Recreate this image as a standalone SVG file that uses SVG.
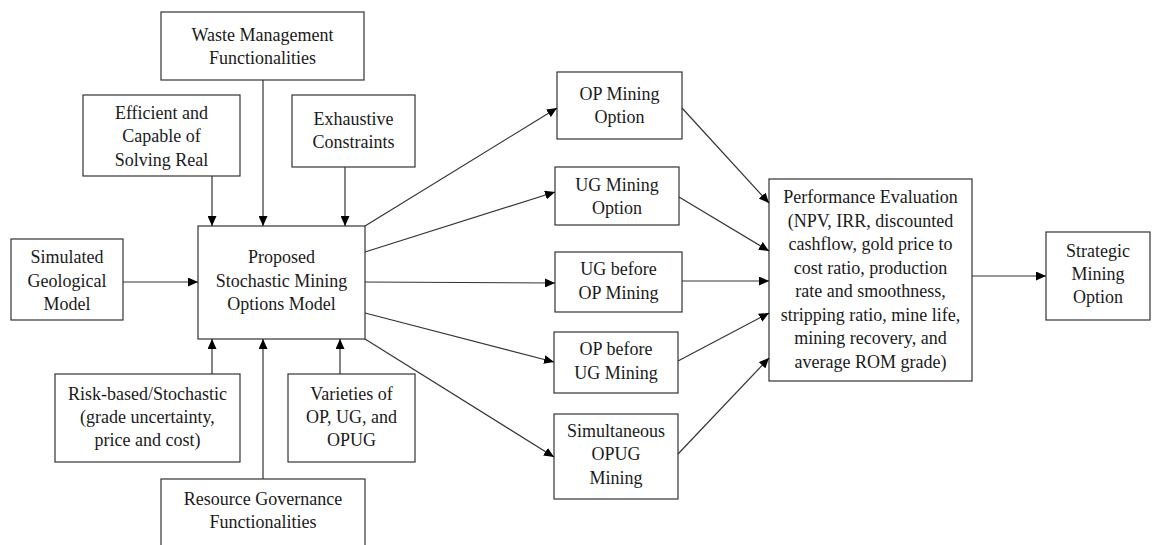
<svg xmlns="http://www.w3.org/2000/svg" width="1153" height="545" viewBox="0 0 1153 545">
<defs>
<marker id="ah" markerUnits="userSpaceOnUse" markerWidth="10" markerHeight="9" refX="10" refY="4.5" orient="auto"><path d="M0,0 L10,4.5 L0,9 z" fill="#000"/></marker>
<style>
.box{fill:#fff;stroke:#333;stroke-width:1.2}
text{font-family:"Liberation Serif","Times New Roman",serif;font-size:18px;fill:#1a1a1a;text-anchor:middle}
.c line{stroke:#333;stroke-width:1.2;marker-end:url(#ah)}
</style>
</defs>
<rect width="1153" height="545" fill="#fff"/>
<g id="waste"><rect class="box" x="161" y="12" width="203" height="68"/><text x="262.5" y="41">Waste Management</text><text x="262.5" y="64">Functionalities</text></g>
<g id="efficient"><rect class="box" x="83" y="95" width="157" height="81"/><text x="161.5" y="119">Efficient and</text><text x="161.5" y="142">Capable of</text><text x="161.5" y="166">Solving Real</text></g>
<g id="exhaustive"><rect class="box" x="292" y="95" width="123" height="72"/><text x="353.5" y="125">Exhaustive</text><text x="353.5" y="148">Constraints</text></g>
<g id="simulated"><rect class="box" x="11" y="239" width="112" height="81"/><text x="67" y="263">Simulated</text><text x="67" y="287">Geological</text><text x="67" y="310">Model</text></g>
<g id="proposed"><rect class="box" x="198" y="226" width="167" height="113"/><text x="281.5" y="263">Proposed</text><text x="281.5" y="287">Stochastic Mining</text><text x="281.5" y="310">Options Model</text></g>
<g id="risk"><rect class="box" x="55" y="374" width="185" height="88"/><text x="147.5" y="400">Risk-based/Stochastic</text><text x="147.5" y="423">(grade uncertainty,</text><text x="147.5" y="446">price and cost)</text></g>
<g id="varieties"><rect class="box" x="288" y="374" width="127" height="88"/><text x="351.5" y="400">Varieties of</text><text x="351.5" y="423">OP, UG, and</text><text x="351.5" y="446">OPUG</text></g>
<g id="resource"><rect class="box" x="161" y="479" width="204" height="70"/><text x="263" y="505">Resource Governance</text><text x="263" y="528">Functionalities</text></g>
<g id="opmining"><rect class="box" x="557" y="72" width="125" height="67"/><text x="619.5" y="100">OP Mining</text><text x="619.5" y="123">Option</text></g>
<g id="ugmining"><rect class="box" x="555" y="167" width="124" height="58"/><text x="617" y="191">UG Mining</text><text x="617" y="214">Option</text></g>
<g id="ugbeforeop"><rect class="box" x="555" y="252" width="127" height="60"/><text x="618.5" y="275">UG before</text><text x="618.5" y="299">OP Mining</text></g>
<g id="opbeforeug"><rect class="box" x="554" y="332" width="124" height="61"/><text x="616" y="355">OP before</text><text x="616" y="379">UG Mining</text></g>
<g id="simultaneous"><rect class="box" x="554" y="414" width="124" height="85"/><text x="616" y="437">Simultaneous</text><text x="616" y="460">OPUG</text><text x="616" y="484">Mining</text></g>
<g id="performance"><rect class="box" x="769" y="179" width="203" height="202"/><text x="870.5" y="203">Performance Evaluation</text><text x="870.5" y="226.5">(NPV, IRR, discounted</text><text x="870.5" y="250">cashflow, gold price to</text><text x="870.5" y="273.5">cost ratio, production</text><text x="870.5" y="297">rate and smoothness,</text><text x="870.5" y="320.5">stripping ratio, mine life,</text><text x="870.5" y="344">mining recovery, and</text><text x="870.5" y="367.5">average ROM grade)</text></g>
<g id="strategic"><rect class="box" x="1046" y="232" width="104" height="88"/><text x="1098" y="257">Strategic</text><text x="1098" y="280">Mining</text><text x="1098" y="303">Option</text></g>
<g id="connectors" class="c">
<line x1="212" y1="176" x2="212" y2="226"/>
<line x1="263" y1="80" x2="263" y2="226"/>
<line x1="345" y1="167" x2="345" y2="226"/>
<line x1="123" y1="282" x2="198" y2="282"/>
<line x1="212" y1="374" x2="212" y2="339"/>
<line x1="263" y1="479" x2="263" y2="339"/>
<line x1="340" y1="374" x2="340" y2="339"/>
<line x1="365" y1="226" x2="557" y2="108"/>
<line x1="365" y1="252" x2="555" y2="192"/>
<line x1="365" y1="282" x2="555" y2="283"/>
<line x1="365" y1="313" x2="554" y2="362"/>
<line x1="365" y1="339" x2="554" y2="457"/>
<line x1="682" y1="108" x2="769" y2="203"/>
<line x1="679" y1="197" x2="769" y2="251"/>
<line x1="682" y1="281" x2="769" y2="281"/>
<line x1="678" y1="361" x2="769" y2="313"/>
<line x1="678" y1="454" x2="769" y2="358"/>
<line x1="972" y1="276" x2="1046" y2="276"/>
</g>
</svg>
